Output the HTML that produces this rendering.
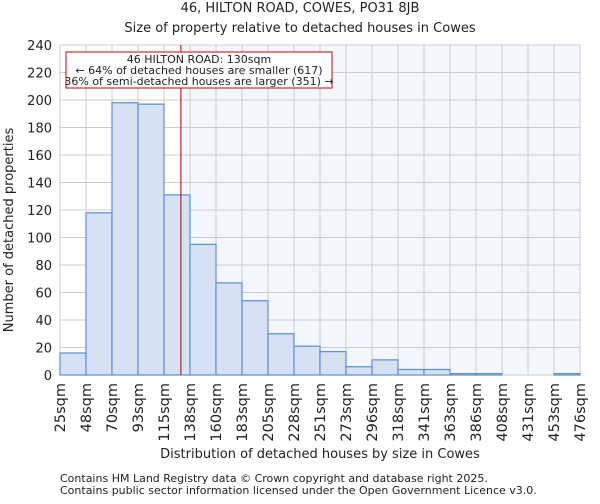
<!DOCTYPE html>
<html><head><meta charset="utf-8"><style>
body{margin:0;background:#fff;font-family:"DejaVu Sans","Liberation Sans",sans-serif;}
svg text{font-family:"DejaVu Sans","Liberation Sans",sans-serif;fill:#222;}
</style></head><body>
<svg id="chart" width="600" height="500" xmlns="http://www.w3.org/2000/svg">
<text x="300" y="12" text-anchor="middle" font-size="13">46, HILTON ROAD, COWES, PO31 8JB</text>
<text x="300" y="32" text-anchor="middle" font-size="13">Size of property relative to detached houses in Cowes</text>
<rect x="60" y="45" width="121" height="330" fill="#ffffff"/>
<rect x="181" y="45" width="399" height="330" fill="#f4f7fd"/>
<g id="grid"></g><g id="bars"></g><g id="yticks"></g><g id="xticks"></g>
<line id="marker" y1="45" y2="375" stroke="#aa0000" stroke-width="1"/>
<rect x="66" y="52" width="266" height="36" fill="#fff" stroke="#cc0000" stroke-width="1"/>
<text x="199" y="63" text-anchor="middle" font-size="11">46 HILTON ROAD: 130sqm</text>
<text x="199" y="74" text-anchor="middle" font-size="11">← 64% of detached houses are smaller (617)</text>
<text x="199" y="85" text-anchor="middle" font-size="11">36% of semi-detached houses are larger (351) →</text>
<text transform="translate(13,230) rotate(-90)" text-anchor="middle" font-size="13">Number of detached properties</text>
<text x="320" y="458" text-anchor="middle" font-size="13">Distribution of detached houses by size in Cowes</text>
<text x="60" y="482" font-size="11" fill="#444">Contains HM Land Registry data © Crown copyright and database right 2025.</text>
<text x="60" y="494" font-size="11" fill="#444">Contains public sector information licensed under the Open Government Licence v3.0.</text>
</svg>
<script>
const edgeLabels=["25sqm","48sqm","70sqm","93sqm","115sqm","138sqm","160sqm","183sqm","205sqm","228sqm","251sqm","273sqm","296sqm","318sqm","341sqm","363sqm","386sqm","408sqm","431sqm","453sqm","476sqm"];
const counts=[16,118,198,197,131,95,67,54,30,21,17,6,11,4,4,1,1,0,0,1];
const yTicks=[0,20,40,60,80,100,120,140,160,180,200,220,240];
const propertyBinPos=4.65;
const NS="http://www.w3.org/2000/svg";
const X0=60,X1=580,Y0=375,Y1=45,YMAX=240;
const n=counts.length, bw=(X1-X0)/n;
const xs=i=>X0+i*bw, ys=v=>Y0-(Y0-Y1)*v/YMAX;
function mk(tag,attrs,parent){const e=document.createElementNS(NS,tag);for(const k in attrs)e.setAttribute(k,attrs[k]);document.getElementById(parent).appendChild(e);return e;}
yTicks.forEach(t=>{
 const l=mk('line',{x1:X0,x2:X1,y1:ys(t),y2:ys(t),stroke:'#cccccc'},'grid');
 
 
 const tx=mk('text',{x:X0-8,y:ys(t)+5,'text-anchor':'end','font-size':'13'},'yticks');
 tx.textContent=t;
 
 
});
edgeLabels.forEach((s,i)=>{
 const l=mk('line',{x1:xs(i),x2:xs(i),y1:Y1,y2:Y0,stroke:'#cccccc'},'grid');
 
 
 const x=xs(i)+5;
 const tx=mk('text',{x:x,y:383,'text-anchor':'end','font-size':'14.5',transform:`rotate(-90 ${x} 383)`},'xticks');
 tx.textContent=s;
 
 
});
counts.forEach((c,i)=>{
 const r=mk('rect',{x:xs(i),y:ys(c),width:bw,height:Y0-ys(c),fill:'#d6e1f3',stroke:'#5a8fd6','stroke-width':'1.2'},'bars');
 
 
});
const mx=X0+propertyBinPos*bw;
const m=document.getElementById('marker');m.setAttribute('x1',mx);m.setAttribute('x2',mx);
</script>
</body></html>
